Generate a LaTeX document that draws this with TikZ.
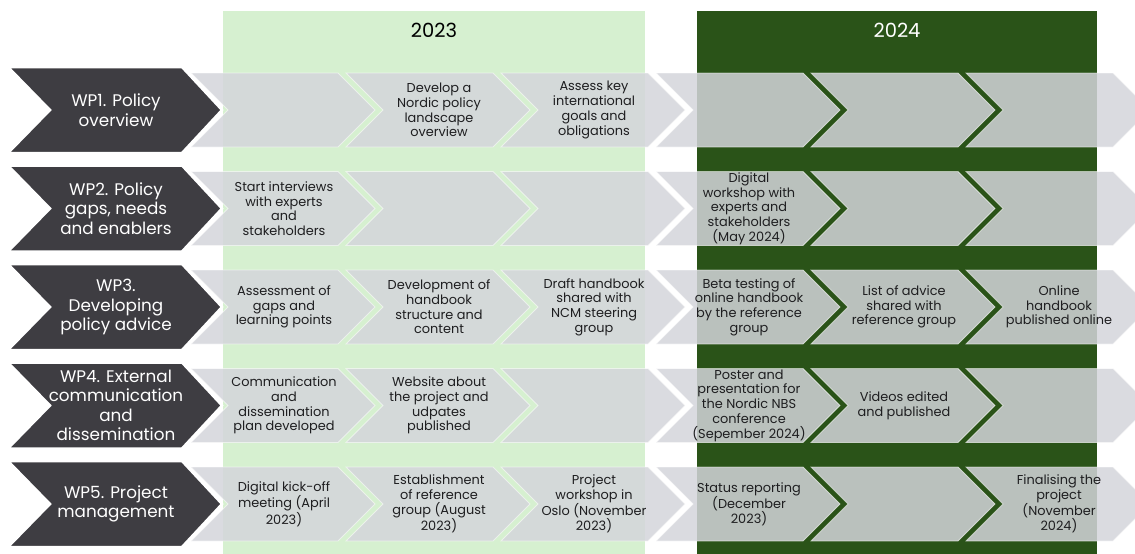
\documentclass[tikz,border=0pt]{standalone}
\usepackage{fontspec}
\setmainfont{Poppins}
\usepackage{tikz}

\definecolor{lightgreen}{RGB}{214,240,208}
\definecolor{darkgreen}{RGB}{42,83,24}
\definecolor{wpgray}{RGB}{62,61,66}
\definecolor{stepgray}{RGB}{212,213,219}
\definecolor{steptext}{RGB}{30,30,32}

\tikzset{
  wpbox/.style={fill=wpgray, draw=white, line width=2.5pt, line join=miter},
  stepbox/.style={fill=stepgray, fill opacity=0.85, draw=white, draw opacity=0.55, line width=0.8pt},
  wplabel/.style={text=white, align=center, font=\fontsize{16.8}{19.5}\selectfont},
  steplabel/.style={text=steptext, align=center, font=\fontsize{12.9}{14.7}\selectfont},
  yearlabel/.style={font=\fontsize{19.5}{22}\selectfont}
}

\begin{document}
\begin{tikzpicture}[x=1pt,y=-1pt]
  \useasboundingbox (0,0) rectangle (1135,554);
  \clip (0,0) rectangle (1135,554);

  % year columns
  \fill[lightgreen] (223,11) rectangle (645,554);
  \fill[darkgreen] (697,11) rectangle (1097,554);
  \node[yearlabel] (y2023) at (434,30) {2023};
  \node[yearlabel, text=white] (y2024) at (897,30) {2024};

  % step chevrons, six per work package
  \foreach \r in {1,...,5}{
    \foreach \k in {0,...,5}{
      \pgfmathsetmacro{\tl}{191+155*\k}
      \pgfmathsetmacro{\yc}{110+98.5*(\r-1)}
      \draw[stepbox] (\tl,\yc-37) -- (\tl+147,\yc-37) -- (\tl+184,\yc)
        -- (\tl+147,\yc+37) -- (\tl,\yc+37) -- (\tl+37,\yc) -- cycle;
    }
  }

  % work package chevrons
  \foreach \r/\txt in {1/{WP1. Policy\\overview},
                       2/{WP2. Policy\\gaps, needs\\and enablers},
                       3/{WP3.\\Developing\\policy advice},
                       4/{WP4. External\\communication\\and\\dissemination},
                       5/{WP5. Project\\management}}{
    \pgfmathsetmacro{\yc}{110+98.5*(\r-1)}
    \draw[wpbox] (8,\yc-43) -- (182,\yc-43) -- (222,\yc) -- (182,\yc+43)
      -- (8,\yc+43) -- (50,\yc) -- cycle;
    \node[wplabel] (wp\r) at (116,\yc) {\txt};
  }

  % step texts (row/column)
  \foreach \r/\k/\txt in {
      1/1/{Develop a\\Nordic policy\\landscape\\overview},
      1/2/{Assess key\\international\\goals and\\obligations},
      2/0/{Start interviews\\with experts\\and\\stakeholders},
      2/3/{Digital\\workshop with\\experts and\\stakeholders\\(May 2024)},
      3/0/{Assessment of\\gaps and\\learning points},
      3/1/{Development of\\handbook\\structure and\\content},
      3/2/{Draft handbook\\shared with\\NCM steering\\group},
      3/3/{Beta testing of\\online handbook\\by the reference\\group},
      3/4/{List of advice\\shared with\\reference group},
      3/5/{Online\\handbook\\published online},
      4/0/{Communication\\and\\dissemination\\plan developed},
      4/1/{Website about\\the project and\\udpates\\published},
      4/3/{Poster and\\presentation for\\the Nordic NBS\\conference\\(Sepember 2024)},
      4/4/{Videos edited\\and published},
      5/0/{Digital kick-off\\meeting (April\\2023)},
      5/1/{Establishment\\of reference\\group (August\\2023)},
      5/2/{Project\\workshop in\\Oslo (November\\2023)},
      5/3/{Status reporting\\(December\\2023)},
      5/5/{Finalising the\\project\\(November\\2024)}}{
    \node[steplabel] (s\r\k) at ({191+155*\k+93},{110+98.5*(\r-1)}) {\txt};
  }
\end{tikzpicture}
\end{document}
